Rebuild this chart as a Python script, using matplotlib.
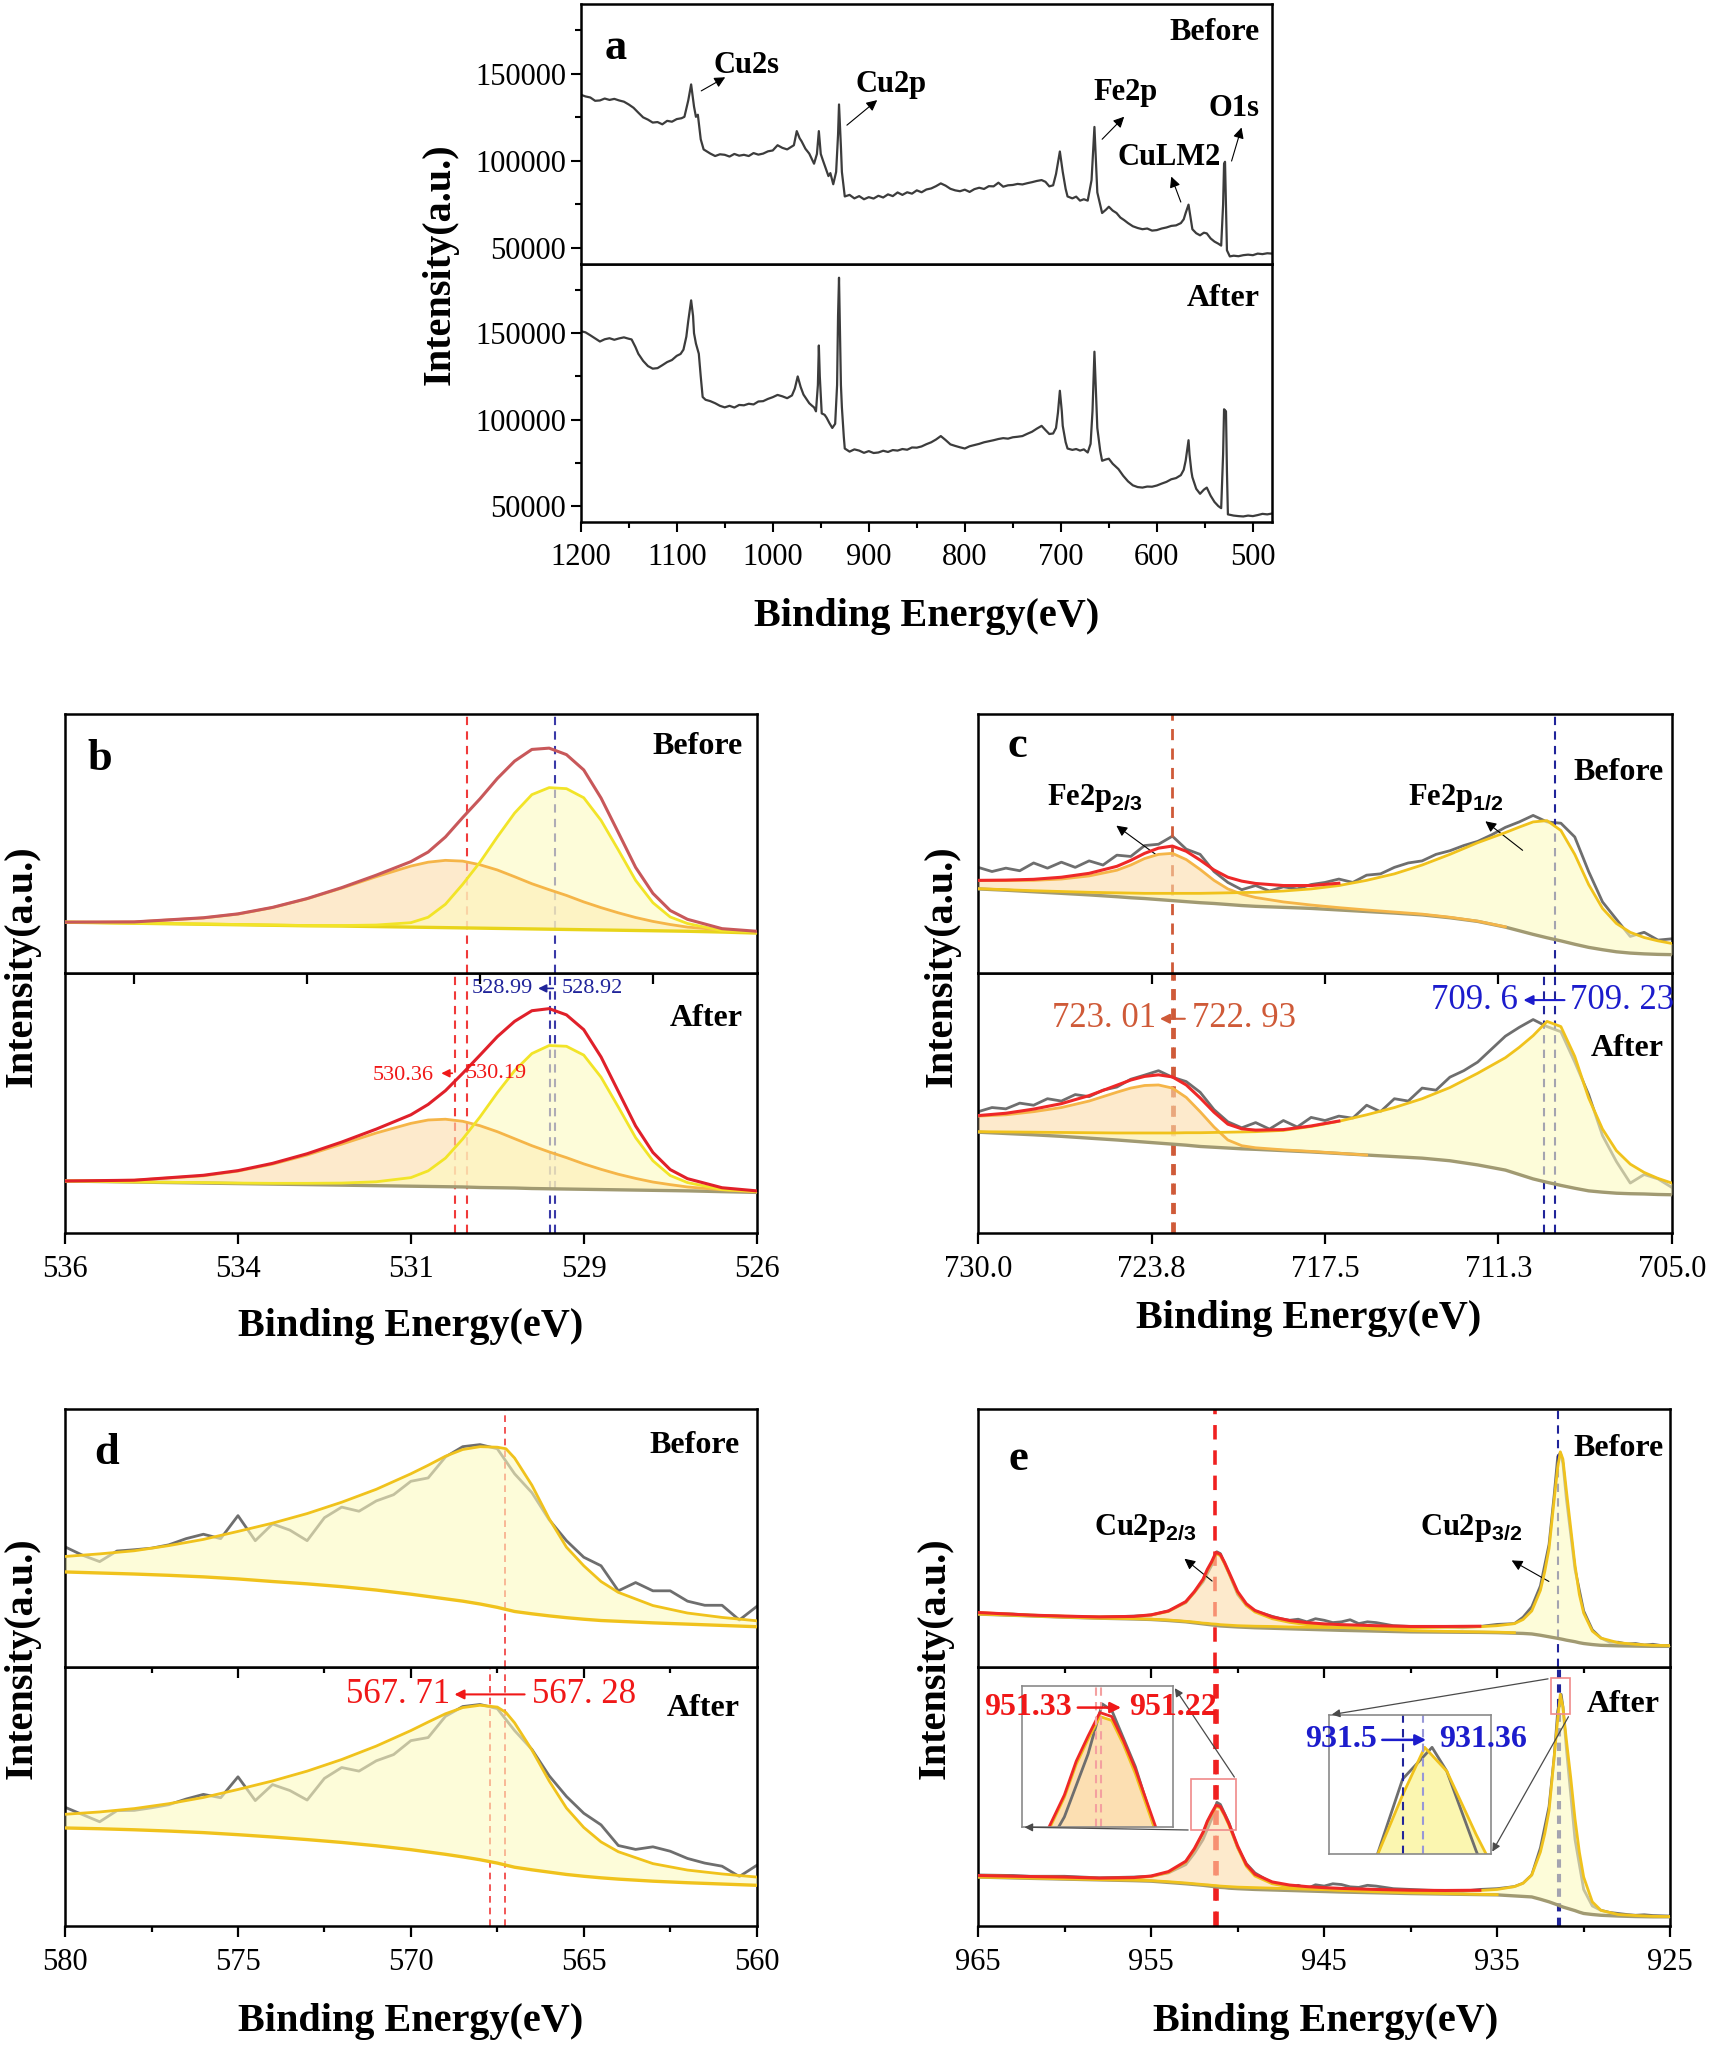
import numpy as np
import matplotlib.pyplot as plt
from matplotlib.ticker import NullLocator, MultipleLocator
from matplotlib.patches import Rectangle

plt.rcParams['font.family'] = 'Liberation Serif'
plt.rcParams['mathtext.fontset'] = 'custom'
plt.rcParams['mathtext.bf'] = 'Liberation Sans:bold'
plt.rcParams['mathtext.rm'] = 'Liberation Sans'

# ---------------- (a) survey spectra: (binding energy eV, counts) ----------------
a_before = [(1200,138000),(1195,137000),(1190,136400),(1185,134500),(1180,134700),(1175,135800),(1170,135000),
            (1165,135600),(1160,134700),(1155,134000),(1150,132400),(1145,130500),(1140,127700),(1135,125000),
            (1130,123700),(1125,122000),(1120,122300),(1115,121000),(1110,123000),(1105,122500),(1100,124000),
            (1095,124500),(1092,125300),(1088,134700),(1085,143900),(1082,131200),(1080,125300),(1078,126500),
            (1075,112400),(1072,106600),(1065,104200),(1060,102800),(1055,103800),(1050,103500),(1045,102500),
            (1040,104000),(1035,103000),(1030,103500),(1025,102800),(1020,104500),(1015,103600),(1010,104200),
            (1005,105500),(1000,106000),(995,109000),(990,107500),(985,106600),(978,109000),(975,117100),
            (972,113000),(970,111300),(966,107000),(962,104200),(957,98400),(954,104000),(952,117100),
            (950,104000),(948,100700),(945,96000),(942,91300),(940,93000),(937,86600),(934,93700),(932,115000),
            (931,132400),(929,108000),(928,93700),(925,79600),(920,80500),(915,78500),(910,79800),(905,78000),
            (900,79200),(895,78400),(890,80000),(885,79000),(880,80800),(875,79800),(870,81900),(865,80500),
            (860,82000),(855,81200),(850,83100),(845,82000),(840,83600),(835,84200),(830,85500),(825,87100),
            (820,85800),(815,84000),(810,83100),(805,82600),(800,83500),(795,82200),(790,83800),(785,84600),
            (780,83900),(775,85500),(770,85400),(765,87500),(760,85200),(755,86000),(750,86200),(745,86800),
            (740,86500),(735,87200),(730,87800),(725,88500),(720,89000),(716,88000),(712,85400),(708,86000),
            (705,92500),(701,105400),(698,93700),(695,84000),(693,79600),(688,78500),(684,79500),(680,77200),
            (676,78000),(672,77200),(668,89000),(665,119500),(662,81900),(657,70100),(653,72000),(650,73700),
            (646,71500),(642,70100),(638,67500),(634,66000),(630,64300),(625,62500),(620,61500),(615,60800),
            (610,61200),(605,60000),(600,60300),(595,61200),(590,61800),(585,62700),(580,63000),(575,64300),
            (572,66500),(570,70100),(567,74900),(565,68000),(563,60800),(559,58500),(555,57300),(551,58800),
            (548,58400),(544,55500),(540,53700),(536,52500),(533,51400),(531,75000),(530,98400),(529,99500),
            (528,75000),(527,48700),(524,45200),(520,45600),(515,45300),(510,45900),(505,46200),(500,45900),
            (495,46800),(490,46500),(485,47000),(480,46800)]
a_after = [(1200,151200),(1195,150500),(1190,148800),(1185,147000),(1180,145200),(1175,146500),(1170,147100),
           (1165,146200),(1160,147000),(1155,147600),(1150,146800),(1147,146400),(1143,142000),(1140,138100),
           (1135,134000),(1130,131000),(1125,129500),(1120,129800),(1115,131500),(1110,133300),(1105,134500),
           (1100,136900),(1096,138000),(1093,140500),(1090,148000),(1088,157100),(1085,169000),(1083,160000),
           (1082,150000),(1080,144000),(1077,138100),(1075,125000),(1073,113100),(1070,111500),(1065,110700),
           (1060,109500),(1055,108000),(1050,107100),(1045,108000),(1040,107000),(1035,108500),(1030,108300),
           (1025,109200),(1020,108800),(1015,110500),(1010,110700),(1005,112000),(1000,113000),(995,114300),
           (990,113500),(985,112400),(980,114000),(977,118000),(974,125000),(971,119000),(968,114500),
           (965,112000),(962,109500),(959,108000),(957,107100),(955,104800),(953,120000),(952,142900),
           (951,125000),(949,103600),(946,102800),(944,101200),(941,98000),(938,95200),(935,97600),(933,120000),
           (932,160000),(931,182100),(930,150000),(929,120000),(928,107100),(926,90000),(925,83300),(920,81500),
           (915,82800),(910,82100),(905,80800),(900,81800),(895,80700),(890,81000),(885,82000),(880,81300),
           (875,82400),(870,82100),(865,83000),(860,82600),(855,83900),(850,83800),(845,84500),(840,85800),
           (835,86900),(830,88500),(825,90500),(820,88200),(815,85700),(810,84800),(805,84000),(800,83300),
           (795,84600),(790,85300),(785,86000),(780,86900),(775,87500),(770,88100),(765,88800),(760,89300),
           (755,89000),(750,89800),(745,90100),(740,90500),(735,91800),(730,93000),(725,94800),(720,96400),
           (716,94000),(712,91700),(708,92000),(705,95200),(703,104000),(701,116700),(699,105000),(698,96400),
           (695,87000),(693,83300),(688,82500),(684,83000),(680,82100),(676,82800),(672,81000),(669,86000),
           (667,105000),(665,139300),(663,110000),(662,95200),(659,82000),(657,76200),(653,77000),(650,77400),
           (646,74500),(640,71400),(635,67500),(630,64300),(625,62000),(620,61000),(615,60700),(610,61300),
           (605,61200),(600,61900),(595,63000),(590,64000),(585,65500),(580,66200),(575,67900),(572,71000),
           (570,76200),(568,84000),(567,88100),(566,80000),(564,70000),(563,66700),(559,60000),(555,57100),
           (551,59500),(548,60700),(544,56000),(540,52400),(536,50000),(533,48800),(531,80000),(530,106000),
           (528,104800),(527,70000),(526,45200),(520,44500),(515,44200),(510,44000),(505,44500),(500,44200),
           (495,44800),(490,45500),(485,45200),(480,45700)]

# ---------------- (b) O1s, relative intensity ----------------
b_x = [536, 535, 534, 533.5, 533, 532.5, 532, 531.5, 531, 530.75, 530.5, 530.25, 530, 529.75, 529.5,
       529.25, 529, 528.75, 528.5, 528.25, 528, 527.75, 527.5, 527.25, 527, 526.5, 526]
b_bef_bg = [19.7,19.3,18.9,18.7,18.5,18.3,18.2,18.0,17.8,17.7,17.6,17.5,17.4,17.3,17.2,17.1,17.0,16.9,16.8,
            16.7,16.6,16.5,16.4,16.3,16.2,15.9,15.5]
b_bef_p1 = [19.7,19.8,21.3,22.8,25.3,28.7,32.8,37.2,41.3,42.8,43.5,43.2,41.8,39.8,37.2,34.5,32.2,30.0,27.5,
            25.3,23.3,21.5,20.0,18.8,17.8,16.7,15.8]
b_bef_p2 = [19.7,19.3,19.0,18.8,18.6,18.4,18.4,18.6,19.5,21.6,26.6,34.3,42.8,52.5,61.7,68.8,71.5,71.1,67.6,
            58.9,47.5,35.8,27.2,21.7,19.2,16.4,15.9]
b_bef_env = [19.7,19.8,21.4,22.9,25.4,28.8,33.0,37.8,43.0,46.7,52.5,60.0,67.2,75.0,81.7,86.2,86.7,84.2,78.3,
             67.5,54.2,40.8,30.8,24.2,20.8,17.2,16.2]
b_aft_bg = [20.0,19.6,19.2,19.0,18.8,18.6,18.4,18.2,18.0,17.9,17.8,17.7,17.5,17.4,17.3,17.1,17.0,16.9,16.8,
            16.7,16.6,16.5,16.4,16.3,16.2,15.9,15.6]
b_aft_p1 = [20.0,20.3,22.0,23.8,26.5,30.0,34.2,38.5,42.2,43.5,43.8,43.0,41.3,39.0,36.3,33.6,31.2,29.0,26.6,
            24.5,22.6,21.0,19.6,18.6,17.7,16.6,15.8]
b_aft_p2 = [20.0,19.6,19.4,19.2,19.1,19.1,19.2,19.7,21.3,23.9,28.8,36.2,44.7,54.0,62.5,69.1,72.2,71.9,68.5,
            60.0,48.5,36.7,27.8,22.1,19.4,16.7,16.0]
b_aft_env = [20.0,20.3,22.2,24.0,26.8,30.5,35.0,40.0,45.5,49.5,54.8,61.5,68.5,75.6,81.5,85.6,86.4,84.0,78.3,
             67.8,54.5,41.2,31.0,24.4,20.9,17.4,16.2]

# ---------------- (c) Fe2p ----------------
c_x = [730,729,728,727,726,725,724.5,724,723.5,723,722.5,722,721.5,721,720.5,720,719,718,717,716,715,714,
       713,712,711,710.5,710,709.5,709,708.5,708,707.5,707,706.5,706,705.5,705]
c_raw_x = np.linspace(730, 705, 51)
c_bef_raw = [40.8,39.2,40.5,39.5,42.5,40.5,42.8,40.8,43.3,41.7,45.5,45.0,49.2,49.7,52.8,47.8,45.8,39.2,35.0,
             32.2,33.8,31.7,33.3,32.5,34.2,35.0,36.3,35.0,37.8,38.3,40.8,42.5,43.3,45.8,47.2,49.2,50.8,53.3,
             56.2,58.3,60.8,58.3,57.8,52.5,39.2,27.5,20.8,14.2,15.8,12.8,13.3]
c_bef_bg = [32.5,32.0,31.4,30.8,30.2,29.5,29.1,28.8,28.4,28.0,27.6,27.2,26.9,26.5,26.1,25.8,25.4,25.0,24.4,
            23.8,23.2,22.5,21.4,20.0,17.8,16.4,15.0,13.7,12.5,11.2,10.0,9.1,8.3,7.8,7.5,7.3,7.2]
c_bef_p1 = [35.7,35.7,35.8,36.3,37.5,39.7,41.7,44.2,45.8,46.2,43.8,40.0,35.8,32.5,30.5,29.2,27.5,26.3,25.3,
            24.4,23.6,22.8,21.6,20.1,17.9]
c_bef_p2 = [32.6,32.2,31.8,31.5,31.2,31.0,30.9,30.8,30.8,30.8,30.8,30.8,30.9,31.0,31.1,31.2,31.7,32.5,33.8,
            35.8,38.3,41.7,45.8,50.3,54.2,56.3,58.3,58.8,55.0,45.8,34.2,25.0,19.2,15.8,13.8,12.5,11.5]
c_bef_env = [35.8,35.9,36.2,37.0,38.5,41.2,43.5,46.2,48.2,49.0,47.0,43.6,39.8,37.0,35.5,34.6,33.8,33.8,34.7]
c_aft_raw = [46.7,48.3,47.8,50.0,49.2,51.7,50.8,53.3,52.5,55.0,56.2,59.2,60.8,62.5,60.0,58.3,54.2,47.5,42.8,
             40.5,42.5,40.0,43.3,40.8,44.5,43.3,45.0,44.2,49.2,46.7,51.7,50.8,55.8,55.0,60.0,62.5,65.8,70.8,
             75.8,79.2,82.2,79.5,77.5,65.8,53.3,37.5,27.5,19.2,22.5,20.8,17.5]
c_aft_bg = [38.8,38.3,37.8,37.2,36.5,35.8,35.4,35.0,34.6,34.2,33.8,33.3,33.0,32.7,32.4,32.2,31.7,31.2,30.6,
            30.0,29.4,28.8,27.8,26.2,24.2,22.5,20.8,19.5,18.3,17.2,16.2,15.7,15.3,15.1,15.0,14.8,14.7]
c_aft_p1 = [45.0,45.5,46.7,48.3,50.8,54.2,55.8,56.8,57.0,55.8,52.2,46.7,40.8,35.8,33.6,32.8,32.0,31.4,30.7,30.0]
c_aft_p2 = [39.0,38.9,38.8,38.7,38.6,38.5,38.5,38.5,38.5,38.5,38.6,38.6,38.7,38.8,38.9,39.0,39.5,41.0,43.0,
            45.5,48.3,51.7,56.0,61.5,67.5,71.5,76.0,81.5,79.5,68.0,52.0,40.0,31.7,26.5,23.3,21.0,19.2]
c_aft_env = [45.2,46.1,47.7,49.8,52.9,56.9,58.9,60.3,60.9,60.1,57.0,52.0,46.5,41.9,40.1,39.6,39.8,41.2,43.1]

# ---------------- (d) CuLMM ----------------
d_x = [580,579,578,577,576,575,574,573,572,571,570,569.5,569,568.5,568,567.5,567.25,567,566.5,566,565.5,565,
       564.5,564,563,562,561,560]
d_raw_x = np.linspace(580, 560, 41)
d_bef_raw = [46.6,43.4,40.9,45.0,45.5,46.1,47.4,49.8,51.5,49.8,58.7,49.0,55.5,53.1,49.0,57.9,62.0,60.4,64.4,
             66.8,72.0,73.3,81.4,85.4,86.2,84.6,74.9,67.6,57.1,49.0,42.6,39.3,29.6,32.8,29.6,29.6,25.6,24.0,
             24.0,18.3,23.5]
d_bef_fit = [42.9,43.9,45.1,47.1,49.5,52.6,55.8,59.5,63.9,68.9,74.9,78.2,81.7,84.3,85.4,85.2,84.6,81.0,70.5,
             57.5,46.5,39.3,33.2,29.0,23.9,21.0,19.3,18.0]
d_bef_bg = [36.9,36.5,36.1,35.6,35.0,34.2,33.2,32.3,31.2,29.9,28.3,27.4,26.5,25.6,24.5,23.2,22.4,21.6,20.7,
            19.9,19.2,18.6,18.1,17.8,17.2,16.7,16.2,15.7]
d_aft_raw = [45.8,43.0,40.2,44.5,44.6,45.6,46.8,49.0,50.8,49.5,57.6,48.4,54.6,52.3,48.6,57.0,61.2,59.8,63.8,
             66.2,71.6,72.8,81.0,84.8,85.6,84.0,75.5,68.2,58.0,50.0,43.5,39.0,31.0,29.5,30.5,28.8,26.0,24.2,
             23.0,19.0,23.3]
d_aft_fit = [43.1,44.0,45.3,47.2,49.6,52.7,56.0,59.8,64.3,69.5,75.5,78.8,82.0,84.4,85.3,84.6,82.5,78.5,68.0,
             56.0,45.5,38.0,32.4,28.6,24.0,21.5,20.0,18.8]
d_aft_bg = [37.8,37.5,37.1,36.6,36.0,35.2,34.3,33.3,32.2,30.9,29.4,28.5,27.6,26.6,25.5,24.2,23.4,22.6,21.6,
            20.7,19.8,19.1,18.5,18.0,17.2,16.6,16.1,15.6]

# ---------------- (e) Cu2p ----------------
e_x = [965,962,960,958,956,955,954,953,952.5,952,951.75,951.5,951.25,951,950.75,950.5,950,949.5,949,948,947,
       946,945,944,942,940,938,936,935,934,933.5,933,932.5,932.25,932,931.75,931.5,931.35,931.2,931,930.75,
       930.5,930.25,930,929.5,929,928,927,926,925]
e_bef_raw = [(965,21.0),(963,20.6),(962,20.2),(960,19.7),(958,19.4),(956,19.8),(955,20.2),(954,21.8),(953,25.0),
             (952.5,29.0),(952,33.1),(951.5,39.5),(951.2,44.7),(951,44.0),(950.5,36.3),(950,28.2),(949.5,24.0),
             (949,21.8),(948,19.7),(947.5,18.8),(947,18.2),(946.5,18.6),(946,17.6),(945.5,18.8),(945,18.2),
             (944.5,17.3),(944,17.6),(943.5,18.4),(943,16.9),(942.5,17.6),(942,17.3),(941,16.1),(940,15.8),
             (939,15.6),(938,15.6),(937,15.3),(936,15.8),(935,16.6),(934,16.9),(933.5,19.4),(933,23.4),
             (932.5,31.5),(932,47.6),(931.7,66.9),(931.5,81.5),(931.35,83.0),(931.2,79.0),(931,65.3),
             (930.5,37.9),(930,21.8),(929.5,14.5),(929,11.3),(928.5,9.7),(928,9.7),(927.5,9.0),(927,9.2),
             (926.5,8.6),(926,8.9),(925.5,8.4),(925,8.5)]
e_bef_bg = [20.6,19.9,19.4,19.0,18.7,18.5,18.1,17.6,17.2,16.8,16.6,16.4,16.2,16.0,15.9,15.8,15.6,15.45,15.3,
            15.1,14.9,14.7,14.5,14.3,14.0,13.7,13.6,13.5,13.4,13.2,13.1,12.9,12.4,12.1,11.8,11.5,11.2,11.0,
            10.8,10.5,10.2,9.9,9.5,9.2,8.8,8.5,8.3,8.2,8.1,8.1]
e_bef_p1 = [21.2,20.2,19.8,19.5,19.6,20.2,21.6,25.2,29.0,33.8,37.5,40.5,44.0,43.2,40.0,36.3,28.8,24.0,21.4,
            18.8,17.4,16.5,15.9,15.4,14.8,14.2,13.9,13.7,13.6,13.4]
e_bef_p2 = [20.6,19.9,19.4,19.0,18.8,18.6,18.3,17.8,17.5,17.1,17.0,16.8,16.7,16.5,16.4,16.3,16.1,16.0,15.9,
            15.8,15.6,15.5,15.4,15.4,15.3,15.3,15.5,15.7,16.1,16.9,18.5,21.8,29.8,37.0,46.0,62.1,77.4,83.4,
            80.6,68.5,54.0,39.5,28.2,21.0,14.0,11.3,9.5,8.9,8.5,8.4]
e_bef_env = [21.2,20.2,19.8,19.5,19.7,20.3,21.8,25.4,29.3,34.1,37.9,40.9,44.5,43.7,40.5,36.8,29.3,24.6,22.0,
             19.5,18.1,17.3,16.8,16.5,16.1,15.8,15.8,15.9]
e_aft_raw = [(965,19.6),(963,19.4),(962,19.1),(960,19.1),(958,18.5),(956,18.8),(955,19.1),(954,20.4),(953,23.6),
             (952.5,28.0),(952,33.3),(951.5,41.3),(951.2,47.7),(951,46.9),(950.5,39.7),(950,30.1),(949.5,24.0),
             (949,20.4),(948,16.4),(947.5,15.8),(947,14.8),(946.5,15.6),(946,14.3),(945.5,15.8),(945,15.3),
             (944.5,16.2),(944,15.9),(943.5,15.0),(943,14.8),(942.5,15.6),(942,15.3),(941,14.3),(940,14.0),
             (939,13.7),(938,13.5),(937,13.3),(936,14.0),(935,14.3),(934,15.1),(933.5,16.4),(933,19.6),
             (932.5,30.1),(932,46.1),(931.7,65.4),(931.5,83.1),(931.3,89.5),(931.2,84.7),(931,68.6),
             (930.5,33.3),(930,14.0),(929.5,7.6),(929,5.9),(928.5,5.1),(928,4.7),(927.5,4.3),(927,4.0),
             (926.5,4.2),(926,3.9),(925.5,3.8),(925,3.7)]
e_aft_bg = [18.8,18.3,18.0,17.7,17.4,17.2,16.7,16.2,15.9,15.6,15.4,15.2,15.0,14.8,14.7,14.5,14.3,14.15,14.0,
            13.8,13.6,13.4,13.2,13.0,12.7,12.4,12.2,12.0,11.9,11.5,11.3,11.1,10.2,9.7,9.2,8.6,8.0,7.6,7.2,
            6.8,6.3,5.8,5.2,4.7,4.3,4.0,3.7,3.5,3.4,3.4]
e_aft_p1 = [19.4,18.9,18.7,18.3,18.4,19.0,20.6,24.6,29.5,35.8,40.0,43.2,46.1,45.6,42.5,38.8,30.2,23.0,19.2,
            16.2,15.0,14.4,14.0,13.6,13.1,12.7,12.4,12.1,12.0]
e_aft_p2 = [18.8,18.4,18.1,17.8,17.6,17.4,17.0,16.5,16.2,15.9,15.8,15.6,15.5,15.3,15.2,15.1,14.9,14.8,14.7,
            14.5,14.3,14.1,13.9,13.8,13.6,13.4,13.4,13.6,14.0,15.1,16.4,19.6,28.5,35.5,44.5,62.2,79.9,89.5,
            84.7,71.9,57.4,41.3,28.5,18.8,9.2,5.9,4.3,3.9,3.6,3.5]
e_aft_env = [19.4,19.0,18.8,18.4,18.6,19.2,20.9,24.9,29.8,36.1,40.4,43.6,46.6,46.1,43.0,39.4,30.8,23.7,19.9,
             16.9,15.7,15.1,14.7,14.4,14.0,13.7,13.6,13.7]

# colours
GRAY = '#6e6e6e'
RED = '#ee2828'
BRICK = '#c8585a'
ORANGE = '#f5b548'
ORANGE_FILL = '#fcdcaa'
YELLOW = '#f2e428'
GOLD = '#f0c21c'
YELLOW_FILL = '#fdfac0'
OLIVE = '#a19a72'
BLUE = '#20249a'
BROWN = '#cf5a38'

fig = plt.figure(figsize=(17.13, 20.47), dpi=100)


def pair(left, right, bottom, mid, top):
    ax_bot = fig.add_axes([left, bottom, right - left, mid - bottom])
    ax_top = fig.add_axes([left, mid, right - left, top - mid])
    return ax_top, ax_bot


def style_pair(ax_top, ax_bot, xlim, majors, labels, top_ticks, minors=None):
    for ax in (ax_top, ax_bot):
        ax.set_xlim(*xlim)
        ax.set_ylim(0, 100)
        ax.yaxis.set_major_locator(NullLocator())
        ax.tick_params(axis='x', which='both', direction='out', width=1.6, labelsize=22, pad=8)
        ax.tick_params(axis='x', which='major', length=8)
        ax.tick_params(axis='x', which='minor', length=4)
        for s in ax.spines.values():
            s.set_linewidth(1.8)
    ax_bot.set_xticks(majors, labels=labels)
    ax_top.set_xticks(top_ticks)
    ax_top.tick_params(labelbottom=False)
    if minors is not None:
        ax_bot.set_xticks(minors, minor=True)
        ax_top.set_xticks(minors, minor=True)


def draw_fit(ax, x, bg, comps, env=None, env_color=RED, raw=None, bg_color=OLIVE):
    if raw is not None:
        ax.plot(raw[0], raw[1], color=GRAY, lw=2.0, zorder=2)
    for vals, lc, fc in comps:
        n = len(vals)
        ax.fill_between(x[:n], bg[:n], vals, color=fc, alpha=0.6, lw=0, zorder=3)
    ax.plot(x, bg, color=bg_color, lw=2.4, zorder=4)
    for vals, lc, fc in comps:
        ax.plot(x[:len(vals)], vals, color=lc, lw=2.0, zorder=5)
    if env is not None:
        ax.plot(x[:len(env)], env, color=env_color, lw=2.2, zorder=6)


def dash(ax, xs, color, lw=1.5):
    for xv in xs:
        ax.axvline(xv, color=color, lw=lw, ls=(0, (4, 3)), zorder=2.5)


def corner_text(ax, x, y, s, **kw):
    ax.text(x, y, s, fontsize=23, fontweight='bold', ha='right', va='center', zorder=12, **kw)


def letter(ax, x, y, s):
    ax.text(x, y, s, fontsize=32, fontweight='bold', ha='center', va='center', zorder=12)


# ================= (a) =================
ax_a1, ax_a2 = pair(0.339, 0.7426, 0.745, 0.871, 0.998)
bx, by = zip(*a_before)
ax_a1.plot(bx, by, color='#3c3c3c', lw=1.6)
ax2x, ax2y = zip(*a_after)
ax_a2.plot(ax2x, ax2y, color='#3c3c3c', lw=1.6)
for ax in (ax_a1, ax_a2):
    ax.set_xlim(1200, 480)
    ax.set_ylim(40800, 190000)
    ax.set_yticks([50000, 100000, 150000])
    ax.yaxis.set_minor_locator(MultipleLocator(25000))
    ax.xaxis.set_major_locator(MultipleLocator(100))
    ax.xaxis.set_minor_locator(MultipleLocator(50))
    ax.tick_params(axis='both', which='both', direction='out', width=1.5, labelsize=22)
    ax.tick_params(which='major', length=7)
    ax.tick_params(which='minor', length=4)
    for s in ax.spines.values():
        s.set_linewidth(1.8)
ax_a1.tick_params(axis='x', which='both', length=0, labelbottom=False)
ax_a2.tick_params(axis='x', pad=8)

arr = dict(arrowstyle='-|>', color='k', lw=0.8, mutation_scale=16)
for s, xy, xyt in [('Cu2s', (1077, 139400), (1047, 148800)),
                   ('Cu2p', (925, 119500), (889, 135900)),
                   ('Fe2p', (659, 111300), (632, 126500)),
                   ('CuLM2', (574, 74900), (586, 92500)),
                   ('O1s', (523, 98400), (511, 120700))]:
    ax_a1.annotate('', xy=xyt, xytext=xy, arrowprops=arr)
for s, pos in [('Cu2s', (1027, 155000)), ('Cu2p', (877, 144100)), ('Fe2p', (633, 139400)),
               ('CuLM2', (587, 101900)), ('O1s', (520, 130000))]:
    ax_a1.text(pos[0], pos[1], s, fontsize=22, fontweight='bold', ha='center', va='center')
letter(ax_a1, 1164, 165000, 'a')
corner_text(ax_a1, 493, 173500, 'Before')
corner_text(ax_a2, 493, 170200, 'After')
fig.text(0.257, 0.871, 'Intensity(a.u.)', rotation=90, fontsize=29, fontweight='bold', ha='center', va='center')
fig.text(0.541, 0.699, 'Binding Energy(eV)', fontsize=29, fontweight='bold', ha='center', va='center')

# ================= (b) =================
ax_b1, ax_b2 = pair(0.038, 0.4417, 0.3977, 0.5245, 0.6514)
style_pair(ax_b1, ax_b2, (536, 526), [536, 533.5, 531, 528.5, 526], ['536', '534', '531', '529', '526'],
           [535, 532.5, 530, 527.5])
dash(ax_b1, [530.19], '#f03a3a')
dash(ax_b1, [528.92], '#3a3aa8')
dash(ax_b2, [530.36, 530.19], '#f03a3a')
dash(ax_b2, [528.99, 528.92], '#3a3aa8')
draw_fit(ax_b1, b_x, b_bef_bg, [(b_bef_p1, ORANGE, ORANGE_FILL), (b_bef_p2, YELLOW, YELLOW_FILL)],
         env=b_bef_env, env_color=BRICK, bg_color='#e8d41a')
draw_fit(ax_b2, b_x, b_aft_bg, [(b_aft_p1, ORANGE, ORANGE_FILL), (b_aft_p2, YELLOW, YELLOW_FILL)],
         env=b_aft_env, env_color='#e0202a', bg_color=OLIVE)
letter(ax_b1, 535.5, 82.5, 'b')
corner_text(ax_b1, 526.2, 87.5, 'Before')
corner_text(ax_b2, 526.2, 82.5, 'After')
ax_b2.text(529.24, 94.2, '528.99', color=BLUE, fontsize=16, ha='right', va='center', zorder=12)
ax_b2.annotate('', xy=(529.2, 94.2), xytext=(528.9, 94.2),
               arrowprops=dict(arrowstyle='-|>', color=BLUE, lw=1.2, mutation_scale=12), zorder=12)
ax_b2.text(528.82, 94.2, '528.92', color=BLUE, fontsize=16, ha='left', va='center', zorder=12)
ax_b2.text(530.67, 60.8, '530.36', color='#f01818', fontsize=16, ha='right', va='center', zorder=12)
ax_b2.annotate('', xy=(530.6, 61.5), xytext=(530.36, 61.5),
               arrowprops=dict(arrowstyle='-|>', color='#f01818', lw=1.2, mutation_scale=12), zorder=12)
ax_b2.text(530.2, 61.5, '530.19', color='#f01818', fontsize=16, ha='left', va='center', zorder=12)
fig.text(0.013, 0.528, 'Intensity(a.u.)', rotation=90, fontsize=29, fontweight='bold', ha='center', va='center')
fig.text(0.24, 0.352, 'Binding Energy(eV)', fontsize=29, fontweight='bold', ha='center', va='center')

# ================= (c) =================
ax_c1, ax_c2 = pair(0.571, 0.976, 0.3977, 0.5245, 0.6514)
style_pair(ax_c1, ax_c2, (730, 705), [730, 723.75, 717.5, 711.25, 705],
           ['730.0', '723.8', '717.5', '711.3', '705.0'], [723.75, 717.5, 711.25])
dash(ax_c1, [723.01], BROWN, lw=2.0)
dash(ax_c1, [709.23], BLUE)
dash(ax_c2, [723.01, 722.93], BROWN, lw=2.0)
dash(ax_c2, [709.6, 709.23], BLUE)
draw_fit(ax_c1, c_x, c_bef_bg, [(c_bef_p1, ORANGE, ORANGE_FILL), (c_bef_p2, GOLD, YELLOW_FILL)],
         env=c_bef_env, raw=(c_raw_x, c_bef_raw))
draw_fit(ax_c2, c_x, c_aft_bg, [(c_aft_p1, ORANGE, ORANGE_FILL), (c_aft_p2, GOLD, YELLOW_FILL)],
         env=c_aft_env, raw=(c_raw_x, c_aft_raw))
letter(ax_c1, 728.6, 87.5, 'c')
corner_text(ax_c1, 705.3, 77.5, 'Before')
corner_text(ax_c2, 705.3, 71.2, 'After')
ax_c1.text(725.8, 67.5, r'Fe2p$_{\mathbf{2/3}}$', fontsize=22, fontweight='bold', ha='center', va='center')
ax_c1.annotate('', xy=(725.1, 57.5), xytext=(723.5, 45), arrowprops=dict(arrowstyle='-|>', color='k', lw=0.8,
               mutation_scale=16))
ax_c1.text(712.8, 67.5, r'Fe2p$_{\mathbf{1/2}}$', fontsize=22, fontweight='bold', ha='center', va='center')
ax_c1.annotate('', xy=(711.8, 59.2), xytext=(710.3, 46.7), arrowprops=dict(arrowstyle='-|>', color='k', lw=0.8,
               mutation_scale=16))
wide = dict(fontsize=25, va='center', zorder=12)
ax_c2.text(723.6, 82.5, '723. 01', color=BROWN, ha='right', **wide)
ax_c2.annotate('', xy=(723.55, 82.5), xytext=(722.45, 82.5),
               arrowprops=dict(arrowstyle='-|>', color=BROWN, lw=1.5, mutation_scale=14), zorder=12)
ax_c2.text(722.3, 82.5, '722. 93', color=BROWN, ha='left', **wide)
ax_c2.text(710.55, 89.7, '709. 6', color='#1c1ccc', ha='right', **wide)
ax_c2.annotate('', xy=(710.45, 89.7), xytext=(708.77, 89.7),
               arrowprops=dict(arrowstyle='-|>', color='#1c1ccc', lw=1.5, mutation_scale=14), zorder=12)
ax_c2.text(708.68, 89.7, '709. 23', color='#1c1ccc', ha='left', **wide)
fig.text(0.55, 0.528, 'Intensity(a.u.)', rotation=90, fontsize=29, fontweight='bold', ha='center', va='center')
fig.text(0.764, 0.356, 'Binding Energy(eV)', fontsize=29, fontweight='bold', ha='center', va='center')

# ================= (d) =================
ax_d1, ax_d2 = pair(0.038, 0.4417, 0.0593, 0.1855, 0.3117)
style_pair(ax_d1, ax_d2, (580, 560), [580, 575, 570, 565, 560], ['580', '575', '570', '565', '560'],
           [575, 570, 565], minors=[577.5, 572.5, 567.5, 562.5])
dash(ax_d1, [567.28], '#f03a3a', lw=1.2)
dash(ax_d2, [567.71, 567.28], '#f03a3a', lw=1.2)
draw_fit(ax_d1, d_x, d_bef_bg, [(d_bef_fit, GOLD, YELLOW_FILL)], raw=(d_raw_x, d_bef_raw), bg_color=GOLD)
draw_fit(ax_d2, d_x, d_aft_bg, [(d_aft_fit, GOLD, YELLOW_FILL)], raw=(d_raw_x, d_aft_raw), bg_color=GOLD)
letter(ax_d1, 578.8, 83, 'd')
corner_text(ax_d1, 560.5, 86, 'Before')
corner_text(ax_d2, 560.5, 84, 'After')
ax_d2.text(568.86, 89.5, '567. 71', color='#f01818', ha='right', **wide)
ax_d2.annotate('', xy=(568.82, 89.5), xytext=(566.63, 89.5),
               arrowprops=dict(arrowstyle='-|>', color='#f01818', lw=1.5, mutation_scale=14), zorder=12)
ax_d2.text(566.5, 89.5, '567. 28', color='#f01818', ha='left', **wide)
fig.text(0.013, 0.19, 'Intensity(a.u.)', rotation=90, fontsize=29, fontweight='bold', ha='center', va='center')
fig.text(0.24, 0.0127, 'Binding Energy(eV)', fontsize=29, fontweight='bold', ha='center', va='center')

# ================= (e) =================
ax_e1, ax_e2 = pair(0.571, 0.975, 0.0593, 0.1855, 0.3117)
style_pair(ax_e1, ax_e2, (965, 925), [965, 955, 945, 935, 925], ['965', '955', '945', '935', '925'],
           [955, 945, 935], minors=[960, 950, 940, 930])
dash(ax_e1, [951.29], '#f02020', lw=2.6)
dash(ax_e1, [931.5], BLUE, lw=1.5)
dash(ax_e2, [951.33, 951.22], '#f02020', lw=2.6)
dash(ax_e2, [931.5, 931.36], BLUE, lw=1.5)
rx, ry = zip(*e_bef_raw)
draw_fit(ax_e1, e_x, e_bef_bg, [(e_bef_p1, GOLD, ORANGE_FILL), (e_bef_p2, GOLD, YELLOW_FILL)],
         env=e_bef_env, raw=(rx, ry))
rx2, ry2 = zip(*e_aft_raw)
draw_fit(ax_e2, e_x, e_aft_bg, [(e_aft_p1, GOLD, ORANGE_FILL), (e_aft_p2, GOLD, YELLOW_FILL)],
         env=e_aft_env, raw=(rx2, ry2))
letter(ax_e1, 962.7, 80.6, 'e')
corner_text(ax_e1, 925.4, 84.7, 'Before')
corner_text(ax_e2, 925.6, 85.5, 'After')
ax_e1.text(955.35, 54, r'Cu2p$_{\mathbf{2/3}}$', fontsize=22, fontweight='bold', ha='center', va='center')
ax_e1.annotate('', xy=(953.2, 42.7), xytext=(951.35, 32.7), arrowprops=dict(arrowstyle='-|>', color='k', lw=0.8,
               mutation_scale=16))
ax_e1.text(936.5, 54, r'Cu2p$_{\mathbf{3/2}}$', fontsize=22, fontweight='bold', ha='center', va='center')
ax_e1.annotate('', xy=(934.3, 41.9), xytext=(931.87, 32.7), arrowprops=dict(arrowstyle='-|>', color='k', lw=0.8,
               mutation_scale=16))

# zoom boxes and insets
ax_e2.add_patch(Rectangle((950.1, 37.0), 2.6, 19.6, fill=False, edgecolor='#f08a8a', lw=1.2, zorder=7))
ax_e2.add_patch(Rectangle((930.8, 81.8), 1.1, 13.9, fill=False, edgecolor='#f08a8a', lw=1.2, zorder=7))

ins1 = ax_e2.inset_axes([0.063, 0.381, 0.219, 0.547])
ins1.plot(rx2, ry2, color=GRAY, lw=2.0)
ins1.fill_between(e_x[:len(e_aft_p1)], e_aft_bg[:len(e_aft_p1)], e_aft_p1, color=ORANGE_FILL, alpha=0.9, lw=0)
ins1.plot(e_x[:len(e_aft_p1)], e_aft_p1, color=GOLD, lw=2.0)
ins1.plot(e_x[:len(e_aft_env)], e_aft_env, color=RED, lw=2.0)
for xv in (951.33, 951.22):
    ins1.axvline(xv, color='#f4a0a0', lw=1.5, ls=(0, (4, 3)))
ins1.set_xlim(952.9, 949.7)
ins1.set_ylim(32, 50)

ins2 = ax_e2.inset_axes([0.507, 0.277, 0.234, 0.538])
ins2.plot(rx2, ry2, color=GRAY, lw=2.0)
ins2.fill_between(e_x, e_aft_bg, e_aft_p2, color='#fbf6a8', alpha=0.9, lw=0)
ins2.plot(e_x, e_aft_p2, color=GOLD, lw=2.0)
ins2.axvline(931.5, color=BLUE, lw=1.5, ls=(0, (4, 3)))
ins2.axvline(931.36, color='#9898d8', lw=1.5, ls=(0, (4, 3)))
ins2.set_xlim(932.0, 930.9)
ins2.set_ylim(68, 96)
for ins in (ins1, ins2):
    ins.set_xticks([])
    ins.set_yticks([])
    for s in ins.spines.values():
        s.set_linewidth(1.2)
        s.set_edgecolor('#8a8a8a')

con = dict(arrowstyle='-|>', color='#4a4a4a', lw=0.9, mutation_scale=12)
ax_e2.annotate('', xy=(0.282, 0.928), xycoords='axes fraction', xytext=(950.1, 56.6), textcoords='data',
               arrowprops=con, zorder=8)
ax_e2.annotate('', xy=(0.063, 0.381), xycoords='axes fraction', xytext=(952.7, 37.0), textcoords='data',
               arrowprops=con, zorder=8)
ax_e2.annotate('', xy=(0.507, 0.815), xycoords='axes fraction', xytext=(931.9, 95.7), textcoords='data',
               arrowprops=con, zorder=8)
ax_e2.annotate('', xy=(0.741, 0.277), xycoords='axes fraction', xytext=(930.8, 81.8), textcoords='data',
               arrowprops=con, zorder=8)

bold = dict(fontsize=23, fontweight='bold', va='center', zorder=12)
ax_e2.text(959.56, 84.4, '951.33', color='#f01818', ha='right', **bold)
ax_e2.annotate('', xy=(956.58, 84.4), xytext=(959.4, 84.4),
               arrowprops=dict(arrowstyle='-|>', color='#f01818', lw=1.8, mutation_scale=16), zorder=12)
ax_e2.text(956.28, 84.4, '951.22', color='#f01818', ha='left', **bold)
ax_e2.text(941.94, 71.9, '931.5', color='#1c1ccc', ha='right', **bold)
ax_e2.annotate('', xy=(938.95, 71.9), xytext=(941.8, 71.9),
               arrowprops=dict(arrowstyle='-|>', color='#1c1ccc', lw=1.8, mutation_scale=16), zorder=12)
ax_e2.text(938.35, 71.9, '931.36', color='#1c1ccc', ha='left', **bold)
fig.text(0.546, 0.19, 'Intensity(a.u.)', rotation=90, fontsize=29, fontweight='bold', ha='center', va='center')
fig.text(0.774, 0.0127, 'Binding Energy(eV)', fontsize=29, fontweight='bold', ha='center', va='center')

fig.savefig('out.png', dpi=100)
